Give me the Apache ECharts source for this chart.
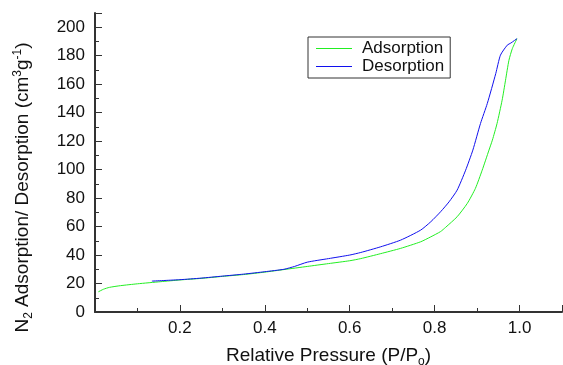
<!DOCTYPE html>
<html>
<head>
<meta charset="utf-8">
<script src="https://cdn.jsdelivr.net/npm/echarts@6/dist/echarts.min.js"></script>
<style>
  html, body { margin: 0; padding: 0; background: #fff; }
  #main { width: 563px; height: 365px; }
</style>
</head>
<body>
<div id="main"></div>
<script>
// 吸附曲线 (P/P0, 体积)
let adsP = [0.008, 0.02, 0.034, 0.06, 0.1, 0.155, 0.2, 0.25, 0.3, 0.35, 0.4, 0.445, 0.5, 0.55, 0.6, 0.626, 0.673, 0.72, 0.767, 0.791, 0.814, 0.826, 0.853, 0.877, 0.896, 0.912, 0.928, 0.936, 0.947, 0.959, 0.967, 0.975, 0.983, 0.994];
let adsV = [14.2, 16.0, 17.3, 18.5, 19.8, 21.3, 22.5, 23.6, 25.0, 26.3, 28.0, 29.8, 32.0, 34.0, 36.0, 37.5, 41.0, 44.7, 49.3, 52.8, 56.5, 59.5, 66.9, 76.3, 86.8, 99.6, 113.7, 120.7, 132.4, 148.8, 162.8, 176.8, 185, 192];
// 脱附曲线
let desP = [0.994, 0.98, 0.971, 0.955, 0.944, 0.924, 0.908, 0.89, 0.873, 0.853, 0.834, 0.814, 0.791, 0.767, 0.72, 0.673, 0.626, 0.6, 0.55, 0.5, 0.47, 0.445, 0.4, 0.35, 0.3, 0.25, 0.2, 0.134];
let desV = [192, 189, 187.4, 180.4, 167.5, 146.4, 132.4, 113.7, 99.6, 85.6, 77.4, 70.4, 63.4, 57.5, 50.5, 45.8, 41.8, 40, 37.5, 35, 32, 30, 28.3, 26.6, 25.2, 23.8, 22.7, 21.7];
// 刻度标签
let xLabels = [0.2, 0.4, 0.6, 0.8, 1.0];
let yLabels = [0, 20, 40, 60, 80, 100, 120, 140, 160, 180, 200];

let font = "Liberation Sans, Arial, sans-serif";
let myChart = echarts.init(document.getElementById("main"));

let option = {
  animation: false,
  grid: { left: 95, right: 1, top: 13, bottom: 53, containLabel: false, outerBoundsMode: "none" },
  legend: {
    orient: "vertical",
    left: 308,
    top: 37,
    icon: "rect",
    itemWidth: 36,
    itemHeight: 1.2,
    itemGap: 1,
    padding: [3, 6, 3, 8],
    borderColor: "#333",
    borderWidth: 1,
    textStyle: { fontFamily: font, fontSize: 17, color: "#111", padding: [0, 0, 0, 5] },
    data: ["Adsorption", "Desorption"]
  },
  xAxis: {
    type: "value",
    min: 0,
    max: 1.1,
    interval: 0.2,
    name: "Relative Pressure (P/P{s|o})",
    nameLocation: "middle",
    nameGap: 32,
    nameTextStyle: {
      fontFamily: font, fontSize: 19, color: "#111",
      rich: { s: { fontSize: 12, verticalAlign: "bottom", padding: [12, 0, 0, 0] } }
    },
    splitLine: { show: false },
    axisLine: { lineStyle: { color: "#333", width: 2 } },
    axisTick: { inside: true, length: 7, lineStyle: { color: "#333" } },
    minorTick: { show: true, splitNumber: 2, length: 4, lineStyle: { color: "#333" } },
    axisLabel: {
      fontFamily: font, fontSize: 17, color: "#111", margin: 8,
      formatter: function(v) {
        let hit = xLabels.find(x => Math.abs(x - v) < 1e-6);
        return hit === undefined ? "" : hit.toFixed(1);
      }
    }
  },
  yAxis: {
    type: "value",
    min: 0,
    max: 210,
    interval: 20,
    name: "N{s|2} Adsorption/ Desorption (cm{p|3}g{p|-1})",
    nameLocation: "middle",
    nameGap: 60,
    nameTextStyle: {
      fontFamily: font, fontSize: 19, color: "#111",
      padding: [0, 50, 0, 0],
      rich: {
        s: { fontSize: 12, padding: [12, 0, 0, 0] },
        p: { fontSize: 12, padding: [0, 0, 10, 0] }
      }
    },
    splitLine: { show: false },
    axisLine: { lineStyle: { color: "#333", width: 2 } },
    axisTick: { inside: true, length: 7, lineStyle: { color: "#333" } },
    minorTick: { show: true, splitNumber: 2, length: 4, lineStyle: { color: "#333" } },
    axisLabel: {
      fontFamily: font, fontSize: 17, color: "#111", margin: 10,
      formatter: function(v) {
        return yLabels.indexOf(v) >= 0 ? String(v) : "";
      }
    }
  },
  series: [
    {
      name: "Adsorption",
      type: "line",
      symbol: "none",
      smooth: 0.2,
      lineStyle: { color: "#22ee22", width: 1 },
      itemStyle: { color: "#22ee22" },
      data: adsP.map((p, i) => [p, adsV[i]])
    },
    {
      name: "Desorption",
      type: "line",
      symbol: "none",
      smooth: 0.2,
      lineStyle: { color: "#1010ee", width: 1 },
      itemStyle: { color: "#1010ee" },
      data: desP.map((p, i) => [p, desV[i]])
    }
  ]
};
myChart.setOption(option);
</script>
</body>
</html>
